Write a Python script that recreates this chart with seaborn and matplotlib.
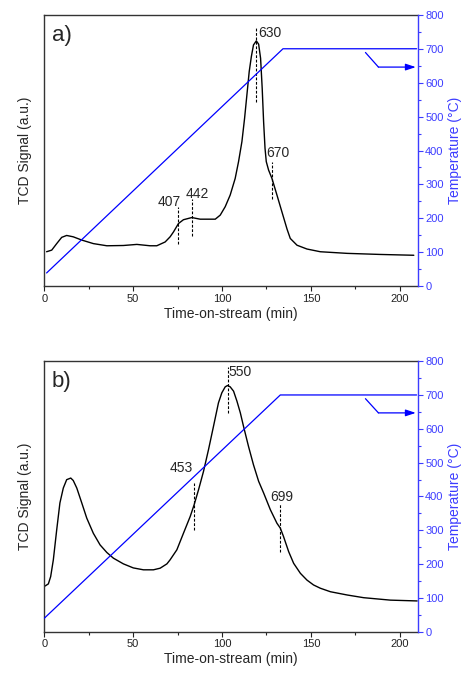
import seaborn as sns
import matplotlib.pyplot as plt
import numpy as np

# panel a) TCD signal (arbitrary units, fraction of axis height)
time_a = [1.3, 4.2, 7.0, 9.8, 12.6, 16.3, 21.1, 27.6, 35.2, 44.5, 52.1, 59.5, 63.3, 68.0, 70.8,
          72.7, 75.5, 78.3, 83.0, 87.7, 91.5, 96.2, 99.0, 101.8, 104.6, 107.4, 109.3, 111.2,
          112.7, 114.0, 115.3, 116.5, 117.7, 119.3, 120.6, 121.7, 122.6, 123.4, 124.2, 124.9,
          126.2, 128.1, 130.9, 133.7, 136.6, 138.4, 142.2, 147.8, 155.3, 170.4, 189.1, 207.9]
tcd_a = [0.127, 0.133, 0.157, 0.180, 0.187, 0.182, 0.170, 0.157, 0.149, 0.150, 0.154, 0.149,
         0.149, 0.163, 0.182, 0.200, 0.231, 0.245, 0.253, 0.247, 0.247, 0.247, 0.262, 0.293,
         0.336, 0.397, 0.459, 0.533, 0.619, 0.705, 0.791, 0.846, 0.889, 0.904, 0.892, 0.840,
         0.730, 0.606, 0.508, 0.459, 0.428, 0.397, 0.336, 0.274, 0.210, 0.176, 0.151, 0.137,
         0.127, 0.121, 0.117, 0.114]

# panel b) TCD signal
time_b = [0.4, 2.3, 3.6, 5.1, 7.0, 8.8, 10.7, 12.6, 14.9, 16.3, 18.3, 21.1, 23.9, 27.6, 31.4,
          35.2, 38.9, 44.5, 50.1, 55.8, 61.4, 65.2, 69.0, 70.8, 74.6, 78.3, 82.1, 84.3, 86.8,
          89.6, 92.4, 95.2, 98.0, 99.9, 101.8, 103.1, 104.6, 106.5, 108.4, 110.3, 112.1, 114.9,
          117.7, 120.6, 123.4, 127.2, 130.9, 132.8, 134.6, 137.5, 140.3, 144.1, 147.8, 151.5,
          155.3, 161.0, 170.4, 179.7, 194.7, 209.8]
tcd_b = [0.169, 0.177, 0.204, 0.266, 0.377, 0.476, 0.531, 0.562, 0.568, 0.559, 0.531, 0.476,
         0.420, 0.364, 0.321, 0.293, 0.272, 0.251, 0.236, 0.229, 0.229, 0.235, 0.251, 0.266,
         0.303, 0.364, 0.426, 0.469, 0.525, 0.593, 0.673, 0.759, 0.846, 0.883, 0.905, 0.910,
         0.905, 0.889, 0.852, 0.809, 0.759, 0.685, 0.617, 0.556, 0.513, 0.451, 0.401, 0.383,
         0.352, 0.296, 0.253, 0.216, 0.191, 0.173, 0.161, 0.148, 0.136, 0.126, 0.117, 0.114]

# temperature program
temp_time_a = [1.3, 134.3, 209.5]
temp_a = [39, 700, 700]
temp_time_b = [0.0, 132.8, 209.5]
temp_b = [40, 700, 700]

# peak labels: (label, x, dash y0, dash y1, text x, text y)
peaks_a = [("407", 75.1, 0.154, 0.293, 70.3, 0.311),
           ("442", 83.0, 0.185, 0.323, 85.9, 0.338),
           ("630", 119.3, 0.680, 0.957, 127.2, 0.932),
           ("670", 128.1, 0.323, 0.459, 131.5, 0.490)]
peaks_b = [("453", 84.0, 0.377, 0.550, 77.0, 0.605),
           ("550", 103.1, 0.809, 0.979, 110.3, 0.959),
           ("699", 132.4, 0.296, 0.473, 133.4, 0.498)]

# arrow pointing at the temperature axis
arrow_a = ([180.7, 188.0], [689, 646])
arrow_b = ([180.7, 188.0], [689, 647])

sns.set_style("ticks")
plt.rcParams['font.family'] = ['Liberation Sans', 'DejaVu Sans']

TEMP_COLOR = '#0000ff'
AXIS_BLUE = '#3c3cff'

fig = plt.figure(figsize=(4.66, 6.75), dpi=100)
ax_a = fig.add_axes([0.095, 0.576, 0.801, 0.402])
ax_b = fig.add_axes([0.095, 0.064, 0.801, 0.401])


def draw_panel(ax, t, s, tt, temp, peaks, arrow, tag):
    sns.lineplot(x=t, y=s, ax=ax, color='black', linewidth=1.0, sort=False)
    ax.set_xlim(0, 210)
    ax.set_ylim(0, 1)
    ax.set_yticks([])
    ax.set_xticks([0, 50, 100, 150, 200])
    ax.set_xticks(np.arange(25, 210, 50), minor=True)
    ax.tick_params(axis='x', which='major', direction='out', length=3.5, width=0.8,
                   labelsize=8, colors='#222222', pad=2)
    ax.tick_params(axis='x', which='minor', direction='out', length=2, width=0.8, colors='#222222')
    ax.set_xlabel('Time-on-stream (min)', fontsize=10, labelpad=2)
    ax.set_ylabel('TCD Signal (a.u.)', fontsize=10, labelpad=9)
    for sp in ['left', 'bottom', 'top']:
        ax.spines[sp].set_color('#333333')
        ax.spines[sp].set_linewidth(1.0)
    ax.spines['right'].set_visible(False)

    for lab, x, y0, y1, tx, ty in peaks:
        ax.plot([x, x], [y0, y1], color='black', linestyle=(0, (2.5, 1.5)), linewidth=0.8)
        ax.text(tx, ty, lab, fontsize=10, ha='center', va='center')

    ax.text(0.02, 0.925, tag, transform=ax.transAxes, fontsize=16, ha='left', va='center')

    ax2 = ax.twinx()
    sns.lineplot(x=tt, y=temp, ax=ax2, color=TEMP_COLOR, linewidth=0.9, sort=False)
    ax2.plot(arrow[0], arrow[1], color=TEMP_COLOR, linewidth=0.9)
    ax2.annotate('', xy=(209, arrow[1][1]), xytext=(arrow[0][1], arrow[1][1]),
                 arrowprops=dict(arrowstyle='-|>,head_length=0.6,head_width=0.2',
                                 color=TEMP_COLOR, lw=0.9, shrinkA=0, shrinkB=0))
    ax2.set_ylim(0, 800)
    ax2.set_yticks(np.arange(0, 801, 100))
    ax2.set_yticks(np.arange(50, 800, 100), minor=True)
    ax2.tick_params(axis='y', which='major', direction='out', length=3.5, width=0.8,
                    labelsize=8, colors=AXIS_BLUE, pad=2)
    ax2.tick_params(axis='y', which='minor', direction='out', length=2, width=0.8, colors=AXIS_BLUE)
    ax2.set_ylabel('Temperature (°C)', fontsize=10, color=AXIS_BLUE, labelpad=3)
    ax2.spines['right'].set_color(AXIS_BLUE)
    ax2.spines['right'].set_linewidth(1.0)
    for sp in ['left', 'bottom', 'top']:
        ax2.spines[sp].set_visible(False)
    return ax2


draw_panel(ax_a, time_a, tcd_a, temp_time_a, temp_a, peaks_a, arrow_a, 'a)')
draw_panel(ax_b, time_b, tcd_b, temp_time_b, temp_b, peaks_b, arrow_b, 'b)')

fig.savefig('out.png', dpi=100)
